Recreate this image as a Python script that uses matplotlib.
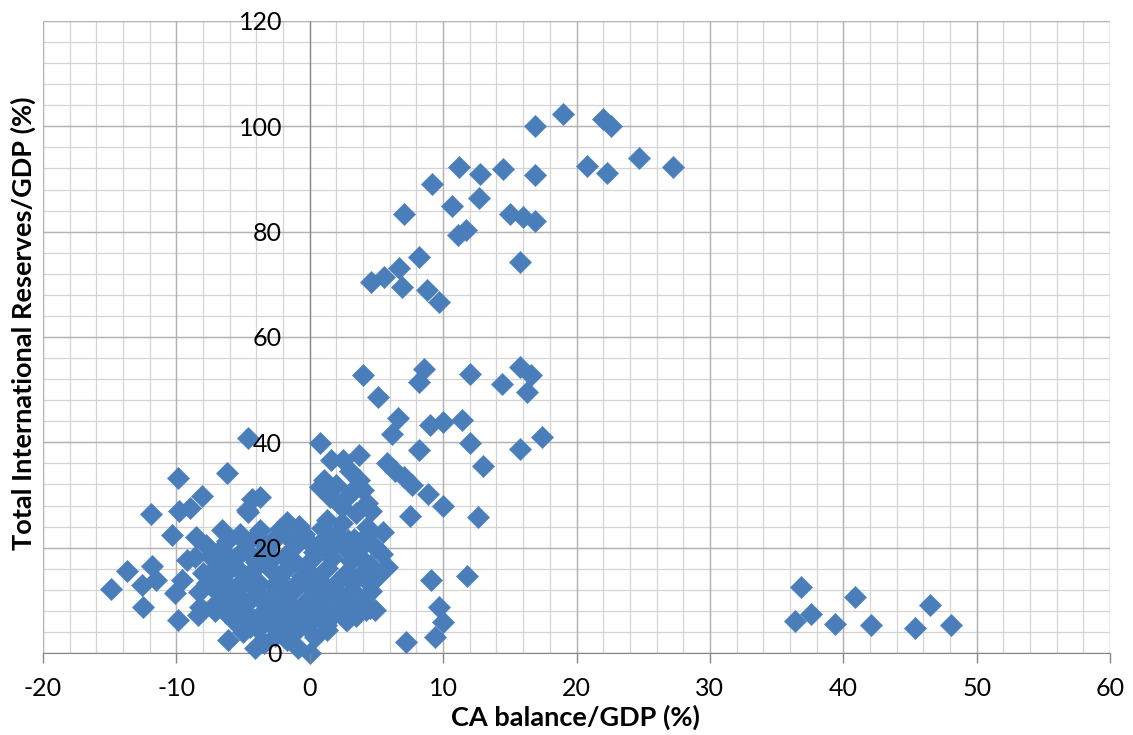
import numpy as np
import matplotlib
matplotlib.use("Agg")
import matplotlib.pyplot as plt

plt.rcParams['font.family'] = ['Lato', 'DejaVu Sans']

upper_x = [19.0, 22.0, 22.6, 16.9, 11.2, 14.5, 12.8, 9.2, 20.8, 22.3, 24.7, 27.2, 16.9,
           10.7, 12.7, 15.0, 16.0, 16.9, 7.1, 11.7, 11.1, 8.2, 15.8, 6.7, 5.6, 4.6, 6.9, 8.8, 9.7]
upper_y = [102.3, 101.4, 100.1, 100.1, 92.3, 91.9, 90.9, 89.0, 92.5, 91.1, 94.0, 92.3, 90.8,
           84.9, 86.4, 83.4, 82.8, 82.0, 83.4, 80.3, 79.4, 75.2, 74.2, 73.1, 71.4, 70.4, 69.5, 68.9, 66.6]

middle_x = [4.0, 8.6, 8.2, 12.0, 14.4, 15.8, 16.6, 16.3, 5.1, 6.6, 6.2, 9.0, 10.0, 11.4,
            0.75, 8.2, 12.0, 15.8, 17.4, 13.0, 5.8, 6.4, 7.1, 7.7, 8.9, 10.0, 7.5, 12.6,
            3.7, 2.5, -4.6]
middle_y = [52.8, 53.9, 51.5, 53.0, 51.1, 54.3, 52.8, 49.6, 48.6, 44.6, 41.6, 43.3, 43.9, 44.2,
            39.9, 38.5, 39.9, 38.7, 41.0, 35.5, 36.1, 34.6, 33.4, 31.9, 30.2, 27.9, 26.0, 25.8,
            37.6, 36.6, 40.8]

arm_x = [1.6, 1.1, 2.0, 3.7, 2.8, 4.3, 1.5, 0.75, 2.4, 1.3, 3.5, 5.5, 4.3, 2.4, 3.0, 4.0, 3.2, 4.6]
arm_y = [36.6, 32.8, 31.9, 32.8, 29.6, 28.5, 29.6, 31.5, 27.7, 25.2, 26.6, 23.0, 23.9, 24.7,
         34.5, 31.0, 30.8, 27.0]

left_x = [-9.9, -6.2, -11.9, -9.8, -9.0, -8.1, -4.3, -3.7, -4.6, -10.3, -13.7, -14.9, -11.8,
          -12.6, -11.5, -12.5, -9.9, -10.1, -9.6, -9.2, -8.5, -8.2, -8.4, -7.7, -6.1, -3.7,
          -1.7, -4.7]
left_y = [33.2, 34.2, 26.4, 27.0, 27.5, 29.8, 29.2, 29.6, 26.8, 22.4, 15.6, 12.1, 16.5,
          12.9, 13.9, 8.7, 6.3, 11.4, 13.9, 17.7, 22.0, 8.7, 7.2, 13.3, 2.5, 23.4,
          24.9, 27.1]

low_x = [-4.1, -3.4, -0.9, 0.0, -1.7, 7.2, 9.4, 9.7, 10.0, 9.1, 11.8, 4.5, 2.8, 1.3, 5.8, 4.9]
low_y = [0.9, 1.9, 0.9, 0.0, 2.5, 2.1, 3.1, 8.7, 5.9, 13.9, 14.6, 8.5, 6.3, 4.4, 16.3, 8.2]

blob_x = [-7.8, -6.9, -6.2, -5.4, -4.8, -4.0, -3.3, -2.6, -1.9, -1.1, -0.4, 0.3, 1.0, 1.7, 2.4,
          3.1, 3.8, 4.5, 4.9,
          -7.2, -6.5, -5.8, -5.1, -4.4, -3.7, -3.0, -2.3, -1.6, -0.9, -0.2, 0.6, 1.3, 2.0, 2.7,
          3.4, 4.1,
          -6.8, -6.0, -5.3, -4.6, -3.9, -3.2, -2.5, -1.8, -1.1, -0.4, 0.4, 1.1, 1.8, 2.5, 3.2, 3.9,
          -6.3, -5.6, -4.9, -4.2, -3.5, -2.8, -2.1, -1.4, -0.7, 0.1, 0.8, 1.6, 2.2, 3.5,
          -5.0, -3.9, -2.6, -1.0, 0.4,
          -8.6, -8.0, -7.4, -7.0, -8.3, -6.6, -5.2, -3.7, -2.2, -0.8, 0.9, 2.0, 3.3, 4.2, 5.4,
          5.0, 4.6, 4.2,
          -6.0, -4.5, -2.8, -1.2, 0.2, 1.6, 3.0, -5.0, -2.0, 0.0, 1.5, -3.5, -5.4, -2.4, 0.4,
          -7.5, -6.4, -5.0, -4.0, -2.9, -1.5, 0.0, 1.2, 2.9, 3.9, -7.5, -6.1, -4.2, -2.7,
          -0.6, 1.0, 2.9, 4.4, -7.1, -5.9, -3.6, -1.6, 0.3, 2.7, 3.0, -4.5, -2.0, -0.3, 1.2]
blob_y = [20.5, 19.1, 21.3, 18.4, 20.8, 17.2, 19.6, 21.9, 18.3, 20.4, 22.6, 19.2, 21.4, 18.0, 20.6,
          17.5, 19.9, 16.8, 20.2,
          16.0, 14.6, 16.9, 13.7, 15.3, 13.1, 15.9, 14.2, 16.4, 13.5, 15.8, 14.0, 16.2, 13.3, 15.1,
          13.8, 15.6,
          11.9, 10.3, 12.4, 9.6, 11.2, 8.9, 11.8, 10.0, 12.1, 9.4, 11.5, 9.8, 12.0, 10.4, 11.9, 9.7,
          7.6, 5.9, 8.1, 6.2, 7.8, 5.4, 7.3, 5.8, 7.9, 6.1, 8.0, 6.9, 8.6, 7.1,
          3.9, 4.5, 3.2, 4.1, 3.0,
          18.2, 15.2, 12.7, 9.5, 11.5, 23.3, 22.6, 21.5, 23.6, 24.2, 23.7, 22.6, 21.7, 22.3, 18.8,
          14.3, 11.8, 8.1,
          18.0, 18.8, 17.8, 17.4, 17.8, 20.0, 19.0, 15.0, 12.6, 12.8, 11.2, 10.0, 10.8, 9.0, 9.0,
          18.5, 17.2, 19.6, 22.2, 20.8, 21.6, 20.9, 19.6, 21.4, 17.8, 14.2, 13.0, 12.5, 13.0,
          14.6, 12.9, 14.2, 13.5, 7.9, 9.2, 6.4, 8.5, 7.6, 6.2, 9.5, 5.0, 4.6, 5.2, 5.4]

right_x = [36.8, 36.4, 37.6, 39.4, 40.9, 42.1, 45.4, 46.5, 48.1]
right_y = [12.6, 6.1, 7.4, 5.5, 10.6, 5.3, 4.7, 9.2, 5.3]

ca = np.array(upper_x + middle_x + arm_x + left_x + low_x + blob_x + right_x)
res = np.array(upper_y + middle_y + arm_y + left_y + low_y + blob_y + right_y)

x_major = np.arange(-20, 61, 10)
x_minor = np.arange(-20, 61, 2)
y_major = np.arange(0, 121, 20)
y_minor = np.arange(0, 121, 4)

fig = plt.figure(figsize=(11.33, 7.35), dpi=100)
ax = fig.add_axes([43 / 1133, 82 / 735, 1067 / 1133, 632 / 735])

# gridlines under the markers
ax.vlines(x_minor, 0, 120, colors='#d4d4d4', linewidth=0.9, zorder=0.3)
ax.hlines(y_minor, -20, 60, colors='#d4d4d4', linewidth=0.9, zorder=0.3)
ax.vlines(x_major, 0, 120, colors='#b4b4b4', linewidth=1.0, zorder=0.4)
ax.hlines(y_major, -20, 60, colors='#b4b4b4', linewidth=1.0, zorder=0.4)

ax.scatter(ca, res, marker='D', s=130, color='#4a7ebb', edgecolors='#4a7ebb',
           linewidths=0.3, zorder=1, clip_on=False)

ax.set_xlim(-20, 60)
ax.set_ylim(0, 120)
ax.set_axisbelow(False)

for side in ['top', 'right']:
    ax.spines[side].set_visible(False)
ax.spines['left'].set_position(('data', 0))
ax.spines['left'].set_color('#868686')
ax.spines['left'].set_zorder(0.6)
ax.spines['bottom'].set_color('#868686')
ax.spines['bottom'].set_zorder(0.6)

ax.set_xticks(x_major)
ax.set_xticklabels([str(v) for v in x_major])
ax.set_yticks(y_major)
ax.set_yticklabels([str(v) for v in y_major])
ax.tick_params(axis='x', direction='out', length=7, width=1, color='#868686',
               labelsize=18, pad=10)
ax.tick_params(axis='y', length=0, labelsize=18, pad=20)

fig.text(575 / 1133, 1 - 717 / 735, 'CA balance/GDP (%)', ha='center', va='center',
         fontsize=19.5, fontweight='bold')
fig.text(23 / 1133, 1 - 323 / 735, 'Total International Reserves/GDP (%)', ha='center',
         va='center', rotation=90, fontsize=19.5, fontweight='bold')

fig.savefig('out.png', dpi=100)
